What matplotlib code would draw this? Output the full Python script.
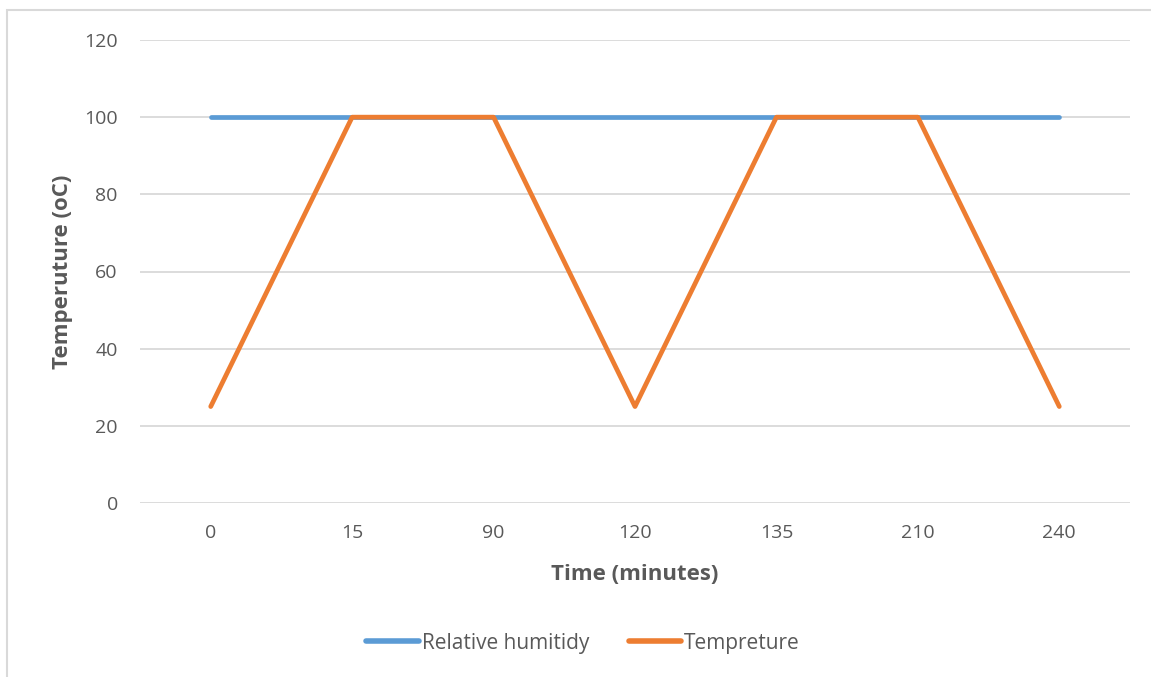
import matplotlib.pyplot as plt
from matplotlib.lines import Line2D
from matplotlib.patches import Rectangle

# Chart data
time_labels = ["0", "15", "90", "120", "135", "210", "240"]
relative_humidity = [100, 100, 100, 100, 100, 100, 100]
temperature = [25, 100, 100, 25, 100, 100, 25]
y_ticks = [0, 20, 40, 60, 80, 100, 120]

TEXT = "#595959"
GRID = "#D9D9D9"
BLUE = "#5B9BD5"
ORANGE = "#ED7D31"

plt.rcParams["font.family"] = ["Open Sans", "DejaVu Sans"]

W, H = 1151, 677
fig = plt.figure(figsize=(W / 100, H / 100), dpi=100)

# Chart area frame (left and top edges visible)
fig.add_artist(Rectangle((7 / W, -0.1), 1.2, (H - 10) / H + 0.1,
                         transform=fig.transFigure, fill=False,
                         edgecolor=GRID, linewidth=1.5))

ax = fig.add_axes([140 / W, 174 / H, 990 / W, 463 / H])
x = list(range(len(time_labels)))

ax.plot(x, relative_humidity, color=BLUE, linewidth=3.4,
        solid_capstyle="round", solid_joinstyle="round", zorder=3)
ax.plot(x, temperature, color=ORANGE, linewidth=3.4,
        solid_capstyle="round", solid_joinstyle="round", zorder=4)

ax.set_xlim(-0.5, len(time_labels) - 0.5)
ax.set_ylim(0, 120)
ax.set_xticks(x)
ax.set_xticklabels(time_labels)
ax.set_yticks(y_ticks)
ax.grid(axis="y", color=GRID, linewidth=1.3)
ax.set_axisbelow(True)
for s in ax.spines.values():
    s.set_visible(False)
ax.tick_params(axis="both", length=0, labelsize=14, colors=TEXT)
ax.tick_params(axis="y", pad=16)
ax.tick_params(axis="x", pad=15)

ax.set_xlabel("Time (minutes)", fontsize=16, fontweight="bold",
              color=TEXT, labelpad=16)
ax.set_ylabel("Temperuture (oC)", fontsize=16, fontweight="bold",
              color=TEXT, labelpad=8)

handles = [Line2D([], [], color=BLUE, linewidth=4, solid_capstyle="round"),
           Line2D([], [], color=ORANGE, linewidth=4, solid_capstyle="round")]
leg = fig.legend(handles, ["Relative humitidy", "Tempreture"],
                 loc="center", bbox_to_anchor=(583 / W, 1 - 643 / H),
                 ncol=2, frameon=False, fontsize=15, handlelength=2.5,
                 handletextpad=0.15, columnspacing=1.9)
for t in leg.get_texts():
    t.set_color(TEXT)

fig.savefig("out.png", dpi=100)
